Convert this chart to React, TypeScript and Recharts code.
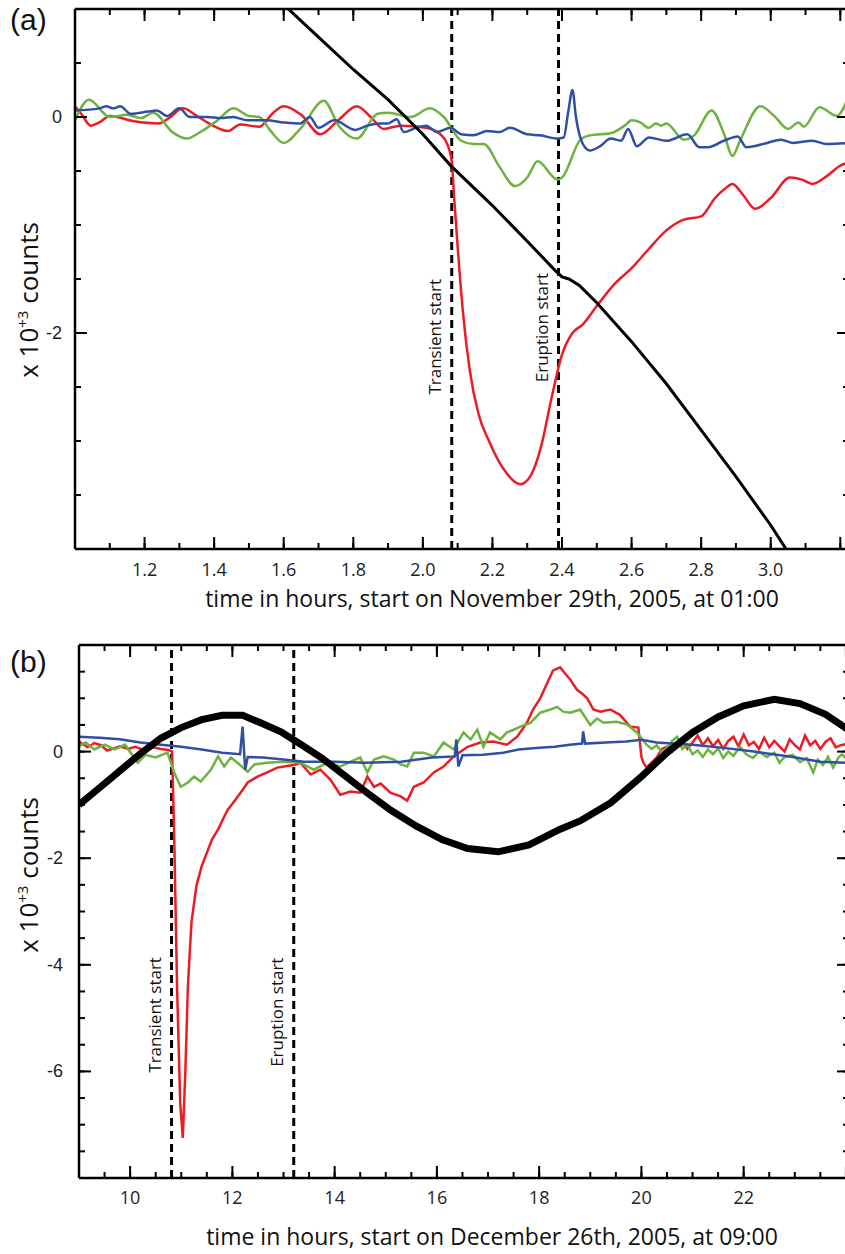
import { LineChart, Line, XAxis, YAxis, ReferenceLine } from 'recharts'

// ---------- panel (a): November 29th, 2005 ----------
const aXTicks = [1.0, 1.1, 1.2, 1.3, 1.4, 1.5, 1.6, 1.7, 1.8, 1.9, 2.0, 2.1, 2.2, 2.3, 2.4, 2.5, 2.6, 2.7, 2.8, 2.9, 3.0, 3.1, 3.2]
const aXLabels = ['1.2', '1.4', '1.6', '1.8', '2.0', '2.2', '2.4', '2.6', '2.8', '3.0']
const aYTicks = [-4, -3.5, -3, -2.5, -2, -1.5, -1, -0.5, 0, 0.5, 1]
const aYLabels = ['0', '-2']
const aMarkers = [2.083, 2.39]

const aRedT = [1.0, 1.02, 1.045, 1.07, 1.1, 1.17, 1.24, 1.27, 1.31, 1.35, 1.38, 1.44, 1.475, 1.53, 1.57, 1.6, 1.65, 1.705, 1.76, 1.81, 1.85, 1.887, 1.935, 2.01, 2.05, 2.07, 2.083, 2.09, 2.1, 2.115, 2.135, 2.16, 2.19, 2.23, 2.28, 2.31, 2.34, 2.37, 2.4, 2.43, 2.46, 2.5, 2.55, 2.6, 2.65, 2.7, 2.75, 2.8, 2.84, 2.87, 2.89, 2.92, 2.955, 3.0, 3.055, 3.09, 3.12, 3.16, 3.2, 3.225]
const aRedV = [0.1, 0.02, -0.08, -0.05, 0.01, -0.04, -0.06, -0.01, 0.08, 0.01, -0.05, -0.13, -0.07, -0.09, 0.04, 0.1, 0.02, -0.16, -0.02, 0.1, 0.0, -0.11, -0.08, -0.1, -0.16, -0.25, -0.41, -0.75, -1.2, -1.8, -2.35, -2.75, -3.0, -3.25, -3.4, -3.32, -3.05, -2.6, -2.2, -2.0, -1.92, -1.75, -1.55, -1.4, -1.22, -1.05, -0.95, -0.92, -0.75, -0.66, -0.62, -0.72, -0.85, -0.75, -0.56, -0.58, -0.62, -0.55, -0.45, -0.42]

const aGreenT = [1.0, 1.04, 1.1, 1.15, 1.19, 1.225, 1.28, 1.32, 1.36, 1.41, 1.455, 1.5, 1.53, 1.56, 1.6, 1.65, 1.715, 1.76, 1.81, 1.87, 1.9, 1.965, 2.02, 2.06, 2.11, 2.145, 2.175, 2.22, 2.265, 2.3, 2.33, 2.387, 2.4, 2.453, 2.48, 2.54, 2.58, 2.6, 2.625, 2.65, 2.67, 2.685, 2.7, 2.75, 2.78, 2.83, 2.865, 2.89, 2.913, 2.97, 3.01, 3.05, 3.08, 3.095, 3.14, 3.19, 3.225]
const aGreenV = [-0.03, 0.16, 0.0, 0.02, -0.01, 0.04, -0.14, -0.2, -0.14, -0.03, 0.08, 0.01, 0.0, -0.12, -0.24, -0.1, 0.15, -0.09, -0.2, 0.03, 0.04, 0.0, 0.08, 0.0, -0.22, -0.25, -0.25, -0.46, -0.64, -0.56, -0.41, -0.58, -0.56, -0.21, -0.17, -0.15, -0.08, -0.03, -0.05, -0.1, -0.06, -0.08, -0.06, -0.21, -0.17, 0.06, -0.15, -0.36, -0.21, 0.1, 0.01, -0.11, -0.05, -0.09, 0.09, 0.01, 0.2]

const aBlueT = [1.0, 1.07, 1.09, 1.11, 1.13, 1.16, 1.21, 1.235, 1.265, 1.3, 1.33, 1.38, 1.42, 1.455, 1.495, 1.55, 1.6, 1.648, 1.675, 1.7, 1.745, 1.805, 1.84, 1.877, 1.9, 1.925, 1.945, 1.98, 2.01, 2.04, 2.08, 2.11, 2.145, 2.185, 2.22, 2.25, 2.3, 2.337, 2.387, 2.405, 2.418, 2.43, 2.44, 2.46, 2.48, 2.51, 2.54, 2.57, 2.59, 2.615, 2.65, 2.7, 2.76, 2.795, 2.82, 2.865, 2.905, 2.93, 2.99, 3.03, 3.065, 3.12, 3.16, 3.225]
const aBlueV = [0.06, 0.08, 0.1, 0.08, 0.1, 0.03, 0.05, 0.06, 0.01, 0.08, 0.0, 0.0, -0.01, 0.0, -0.03, -0.03, -0.05, -0.06, 0.0, -0.1, -0.03, -0.12, -0.08, -0.06, -0.06, -0.02, -0.14, -0.1, -0.08, -0.14, -0.1, -0.16, -0.17, -0.13, -0.14, -0.1, -0.16, -0.17, -0.2, -0.19, 0.05, 0.25, 0.0, -0.25, -0.31, -0.27, -0.2, -0.22, -0.11, -0.27, -0.19, -0.22, -0.16, -0.28, -0.28, -0.22, -0.18, -0.28, -0.24, -0.21, -0.24, -0.22, -0.25, -0.24]

const aBlackT = [1.6, 1.7, 1.8, 1.9, 2.0, 2.08, 2.2, 2.3, 2.38, 2.4, 2.42, 2.45, 2.5, 2.6, 2.7, 2.8, 2.9, 3.0, 3.06]
const aBlackV = [1.04, 0.74, 0.44, 0.16, -0.16, -0.45, -0.82, -1.15, -1.42, -1.48, -1.5, -1.56, -1.72, -2.08, -2.47, -2.9, -3.33, -3.78, -4.08]

// ---------- panel (b): December 26th, 2005 ----------
const bXTicks = [9, 9.5, 10, 10.5, 11, 11.5, 12, 12.5, 13, 13.5, 14, 14.5, 15, 15.5, 16, 16.5, 17, 17.5, 18, 18.5, 19, 19.5, 20, 20.5, 21, 21.5, 22, 22.5, 23, 23.5, 24]
const bXLabels = ['10', '12', '14', '16', '18', '20', '22']
const bYTicks = [-8, -7.5, -7, -6.5, -6, -5.5, -5, -4.5, -4, -3.5, -3, -2.5, -2, -1.5, -1, -0.5, 0, 0.5, 1, 1.5, 2]
const bYLabels = ['0', '-2', '-4', '-6']
const bMarkers = [10.81, 13.2]

const bRedT = [9.0, 9.17, 9.3, 9.43, 9.55, 9.68, 9.8, 9.96, 10.1, 10.27, 10.45, 10.6, 10.75, 10.82, 10.86, 10.92, 10.98, 11.03, 11.08, 11.13, 11.2, 11.3, 11.4, 11.5, 11.6, 11.72, 11.8, 11.91, 12.0, 12.16, 12.3, 12.49, 12.68, 12.88, 13.07, 13.2, 13.33, 13.53, 13.72, 13.92, 14.11, 14.31, 14.5, 14.64, 14.77, 14.9, 15.09, 15.29, 15.42, 15.55, 15.74, 15.94, 16.13, 16.33, 16.6, 16.85, 17.1, 17.37, 17.57, 17.76, 17.88, 18.02, 18.16, 18.27, 18.41, 18.52, 18.61, 18.74, 18.86, 18.94, 19.06, 19.2, 19.39, 19.58, 19.78, 19.94, 20.0, 20.04, 20.1, 20.3, 20.4, 20.5, 20.6, 20.7, 20.8, 20.9, 21.0, 21.1, 21.2, 21.3, 21.4, 21.5, 21.6, 21.7, 21.8, 21.9, 22.0, 22.1, 22.2, 22.3, 22.4, 22.5, 22.6, 22.7, 22.8, 22.9, 23.0, 23.1, 23.2, 23.3, 23.4, 23.5, 23.6, 23.7, 23.8, 23.9, 24.06]
const bRedV = [0.19, 0.08, 0.16, 0.12, 0.02, 0.06, 0.1, 0.05, 0.09, 0.03, 0.08, 0.05, 0.03, 0.0, -1.5, -4.5, -6.6, -7.25, -6.0, -4.4, -3.2, -2.5, -2.15, -1.9, -1.65, -1.46, -1.3, -1.09, -0.98, -0.77, -0.58, -0.47, -0.39, -0.3, -0.27, -0.25, -0.21, -0.43, -0.34, -0.53, -0.81, -0.75, -0.77, -0.47, -0.66, -0.6, -0.77, -0.84, -0.92, -0.66, -0.58, -0.39, -0.28, -0.09, 0.09, 0.17, 0.19, 0.13, 0.28, 0.54, 0.79, 1.0, 1.29, 1.52, 1.58, 1.45, 1.35, 1.16, 1.07, 1.0, 0.79, 0.75, 0.79, 0.69, 0.47, 0.45, -0.1, -0.21, -0.3, -0.11, 0.05, 0.09, 0.0, 0.13, 0.2, 0.05, 0.17, 0.3, 0.12, 0.25, 0.1, 0.22, 0.05, 0.2, 0.28, 0.1, 0.32, 0.12, 0.18, 0.05, 0.26, 0.08, 0.2, 0.1, 0.0, 0.23, 0.12, 0.04, 0.3, 0.12, 0.2, 0.05, 0.18, 0.25, 0.08, 0.12, 0.15]

const bGreenT = [9.0, 9.13, 9.3, 9.5, 9.7, 9.9, 10.15, 10.3, 10.5, 10.73, 10.86, 10.99, 11.13, 11.25, 11.38, 11.58, 11.72, 11.84, 11.97, 12.1, 12.3, 12.43, 12.68, 13.0, 13.33, 13.59, 13.85, 14.11, 14.5, 14.64, 14.77, 14.96, 15.16, 15.29, 15.42, 15.55, 15.74, 15.94, 16.13, 16.33, 16.52, 16.66, 16.79, 16.91, 17.04, 17.24, 17.37, 17.5, 17.63, 17.83, 18.02, 18.22, 18.35, 18.47, 18.61, 18.8, 19.0, 19.13, 19.26, 19.52, 19.72, 19.91, 20.1, 20.2, 20.3, 20.4, 20.5, 20.6, 20.7, 20.8, 20.9, 21.0, 21.1, 21.2, 21.3, 21.4, 21.5, 21.6, 21.7, 21.8, 21.93, 22.05, 22.18, 22.3, 22.45, 22.6, 22.7, 22.8, 22.96, 23.1, 23.23, 23.36, 23.45, 23.55, 23.65, 23.75, 23.85, 23.92, 24.06]
const bGreenV = [0.1, 0.17, 0.04, 0.13, 0.04, 0.13, -0.21, -0.06, -0.11, -0.02, -0.39, -0.66, -0.58, -0.47, -0.56, -0.34, -0.09, -0.28, -0.11, -0.21, -0.38, -0.24, -0.21, -0.19, -0.21, -0.34, -0.21, -0.28, -0.11, -0.39, -0.15, -0.09, -0.15, -0.24, -0.28, -0.02, -0.02, -0.09, 0.17, 0.04, 0.36, 0.23, 0.41, 0.09, 0.36, 0.23, 0.36, 0.41, 0.47, 0.54, 0.73, 0.79, 0.84, 0.75, 0.73, 0.79, 0.5, 0.62, 0.54, 0.56, 0.51, 0.36, 0.13, 0.05, 0.12, -0.02, 0.07, 0.2, 0.28, 0.05, 0.13, -0.05, 0.02, -0.1, 0.04, -0.05, 0.06, -0.12, 0.0, -0.08, 0.09, -0.05, -0.12, 0.0, -0.1, -0.02, -0.21, -0.1, -0.06, -0.2, -0.12, -0.39, -0.15, -0.25, -0.1, -0.3, -0.12, -0.05, -0.18]

const bBlueT = [9.0, 9.4, 9.8, 10.2, 10.6, 11.0, 11.4, 11.8, 12.15, 12.2, 12.25, 12.3, 12.6, 13.0, 13.4, 14.0, 14.6, 15.3, 15.9, 16.35, 16.38, 16.42, 16.5, 16.9, 17.3, 17.6, 18.0, 18.3, 18.6, 18.84, 18.86, 18.9, 19.3, 19.7, 20.0, 20.3, 21.0, 21.6, 22.2, 22.9, 23.5, 24.06]
const bBlueV = [0.28, 0.26, 0.23, 0.17, 0.13, 0.09, 0.04, -0.02, -0.05, 0.47, -0.34, -0.1, -0.11, -0.15, -0.19, -0.19, -0.21, -0.19, -0.11, -0.09, 0.23, -0.28, -0.07, -0.06, -0.02, 0.04, 0.07, 0.09, 0.13, 0.15, 0.38, 0.15, 0.17, 0.19, 0.22, 0.17, 0.13, 0.07, 0.0, -0.09, -0.19, -0.21]

const bBlackT = [9.0, 9.4, 9.8, 10.2, 10.6, 11.0, 11.4, 11.8, 12.2, 12.55, 12.95, 13.35, 13.75, 14.1, 14.6, 15.1, 15.6, 16.1, 16.6, 17.2, 17.8, 18.4, 18.8, 19.4, 20.0, 20.5, 21.0, 21.5, 22.0, 22.6, 23.1, 23.6, 24.06]
const bBlackV = [-1.0, -0.68, -0.36, -0.04, 0.25, 0.45, 0.6, 0.68, 0.68, 0.54, 0.37, 0.13, -0.12, -0.38, -0.75, -1.1, -1.4, -1.65, -1.82, -1.88, -1.75, -1.46, -1.3, -0.96, -0.47, -0.02, 0.36, 0.65, 0.86, 0.98, 0.9, 0.7, 0.4]

const RED = '#ec1c24'
const GREEN = '#6db33f'
const BLUE = '#2f4fa2'
const LABEL_FONT = '"Open Sans", sans-serif'
const NUM_FONT = '"Liberation Sans", Arial, sans-serif'
const MINOR = 6
const MAJOR = 12

const rows = (t: number[], v: number[]) => t.map((x, i) => ({ t: x, v: v[i] }))

type Side = 'bottom' | 'top' | 'left' | 'right'

// built-in tick line gives the short inward mark; majors get extended here
const makeTick =
  (side: Side, isMajor: (v: number) => boolean, labels: string[] = [], digits = 0, gap = 0) =>
  (props: any) => {
    const { x, y, payload } = props
    const v = payload.value as number
    const txt = digits ? v.toFixed(digits) : String(v)
    const show = labels.includes(txt)
    const big = isMajor(v)
    if (side === 'bottom' || side === 'top') {
      const axisY = side === 'bottom' ? y + MINOR : y - MINOR
      const dir = side === 'bottom' ? -1 : 1
      return (
        <g>
          {big && <path d={`M${x},${axisY}V${axisY + dir * MAJOR}`} stroke="#000" strokeWidth={2} fill="none" />}
          {show && (
            <text x={x} y={axisY + gap} textAnchor="middle" fontSize={18} fontFamily={LABEL_FONT} fill="#222">
              {txt}
            </text>
          )}
        </g>
      )
    }
    const axisX = side === 'left' ? x - MINOR : x + MINOR
    const dir = side === 'left' ? 1 : -1
    return (
      <g>
        {big && <path d={`M${axisX},${y}H${axisX + dir * MAJOR}`} stroke="#000" strokeWidth={2} fill="none" />}
        {show && (
          <text x={axisX - gap} y={y + 6} textAnchor="end" fontSize={18} fontFamily={NUM_FONT} fill="#222">
            {txt}
          </text>
        )}
      </g>
    )
  }

const markerLabel = (text: string, frac: number) => (props: any) => {
  const vb = props.viewBox
  const cx = vb.x - 17
  const cy = vb.y + frac * vb.height
  return (
    <text
      transform={`translate(${cx},${cy}) rotate(-90)`}
      textAnchor="middle"
      dominantBaseline="central"
      fontSize={17}
      fontFamily={LABEL_FONT}
      fill="#111"
    >
      {text}
    </text>
  )
}

const axisLine = { stroke: '#000', strokeWidth: 2.5 }
const tickLine = { stroke: '#000', strokeWidth: 2 }
const evenTenth = (v: number) => Math.round(v * 10) % 2 === 0
const evenInt = (v: number) => Math.abs(v / 2 - Math.round(v / 2)) < 1e-6

type Row = { t: number; v: number }
type PanelProps = {
  xDomain: [number, number]
  yDomain: [number, number]
  xTicks: number[]
  yTicks: number[]
  xLabels: string[]
  yLabels: string[]
  xMajor: (v: number) => boolean
  xDigits: number
  xGap: number
  yGap: number
  leftWidth: number
  bottomHeight: number
  markers: number[]
  markerFracs: number[]
  red: Row[]
  green: Row[]
  blue: Row[]
  black: Row[]
  blackWidth: number
  smooth: boolean
}

function Panel(p: PanelProps) {
  const curve = p.smooth ? 'monotone' : 'linear'
  const common = {
    type: 'number' as const,
    interval: 0,
    allowDataOverflow: true,
    tickSize: -MINOR,
    tickMargin: 0,
    tickLine,
    axisLine,
  }
  return (
    <LineChart width={860} height={640} margin={{ top: 8, right: 10, bottom: 0, left: 0 }}>
      <XAxis
        {...common}
        dataKey="t"
        domain={p.xDomain}
        ticks={p.xTicks}
        height={p.bottomHeight}
        tick={makeTick('bottom', p.xMajor, p.xLabels, p.xDigits, p.xGap)}
      />
      <XAxis
        {...common}
        xAxisId="top"
        orientation="top"
        dataKey="t"
        domain={p.xDomain}
        ticks={p.xTicks}
        height={1}
        tick={makeTick('top', p.xMajor)}
      />
      <YAxis
        {...common}
        domain={p.yDomain}
        ticks={p.yTicks}
        width={p.leftWidth}
        tick={makeTick('left', evenInt, p.yLabels, 0, p.yGap)}
      />
      <YAxis
        {...common}
        yAxisId="right"
        orientation="right"
        domain={p.yDomain}
        ticks={p.yTicks}
        width={1}
        tick={makeTick('right', evenInt)}
      />
      <ReferenceLine
        x={p.markers[0]}
        stroke="#000"
        strokeWidth={3}
        strokeDasharray="8 5"
        label={markerLabel('Transient start', p.markerFracs[0])}
      />
      <ReferenceLine
        x={p.markers[1]}
        stroke="#000"
        strokeWidth={3}
        strokeDasharray="8 5"
        label={markerLabel('Eruption start', p.markerFracs[1])}
      />
      <Line data={p.red} dataKey="v" type={curve} stroke={RED} strokeWidth={2.5} dot={false} isAnimationActive={false} />
      <Line data={p.green} dataKey="v" type={curve} stroke={GREEN} strokeWidth={2.5} dot={false} isAnimationActive={false} />
      <Line data={p.blue} dataKey="v" type={curve} stroke={BLUE} strokeWidth={2.5} dot={false} isAnimationActive={false} />
      <Line data={p.black} dataKey="v" type="linear" stroke="#000" strokeWidth={p.blackWidth} dot={false} isAnimationActive={false} />
    </LineChart>
  )
}

function YTitle({ x, y }: { x: number; y: number }) {
  return (
    <text transform={`translate(${x},${y}) rotate(-90)`} textAnchor="middle" fontSize={26} fontFamily={LABEL_FONT} fill="#111">
      x 10
      <tspan dy={-10} fontSize={15}>
        +3
      </tspan>
      <tspan dy={10}> counts</tspan>
    </text>
  )
}

export default function App() {
  return (
    <div style={{ position: 'absolute', left: 0, top: 0, width: 845, height: 1254, overflow: 'hidden', background: '#fff' }}>
      <div style={{ position: 'absolute', left: 0, top: 0 }}>
        <Panel
          xDomain={[1.0, 3.225]}
          yDomain={[-4, 1]}
          xTicks={aXTicks}
          yTicks={aYTicks}
          xLabels={aXLabels}
          yLabels={aYLabels}
          xMajor={evenTenth}
          xDigits={1}
          xGap={27}
          yGap={13}
          leftWidth={75}
          bottomHeight={91}
          markers={aMarkers}
          markerFracs={[0.607, 0.59]}
          red={rows(aRedT, aRedV)}
          green={rows(aGreenT, aGreenV)}
          blue={rows(aBlueT, aBlueV)}
          black={rows(aBlackT, aBlackV)}
          blackWidth={3}
          smooth
        />
      </div>
      <div style={{ position: 'absolute', left: 0, top: 636 }}>
        <Panel
          xDomain={[9, 24.06]}
          yDomain={[-8, 2]}
          xTicks={bXTicks}
          yTicks={bYTicks}
          xLabels={bXLabels}
          yLabels={bYLabels}
          xMajor={evenInt}
          xDigits={0}
          xGap={26}
          yGap={16}
          leftWidth={79}
          bottomHeight={98}
          markers={bMarkers}
          markerFracs={[0.694, 0.689]}
          red={rows(bRedT, bRedV)}
          green={rows(bGreenT, bGreenV)}
          blue={rows(bBlueT, bBlueV)}
          black={rows(bBlackT, bBlackV)}
          blackWidth={7}
          smooth={false}
        />
      </div>
      <svg width={845} height={1254} style={{ position: 'absolute', left: 0, top: 0, pointerEvents: 'none' }}>
        <text x={10} y={30} fontSize={30} fontFamily={NUM_FONT} fill="#111">
          (a)
        </text>
        <text x={10} y={672} fontSize={30} fontFamily={NUM_FONT} fill="#111">
          (b)
        </text>
        <YTitle x={38} y={300} />
        <YTitle x={38} y={875} />
        <text x={492} y={607} textAnchor="middle" fontSize={23} fontFamily={LABEL_FONT} fill="#111">
          time in hours, start on November 29th, 2005, at 01:00
        </text>
        <text x={492} y={1245} textAnchor="middle" fontSize={23} fontFamily={LABEL_FONT} fill="#111">
          time in hours, start on December 26th, 2005, at 09:00
        </text>
      </svg>
    </div>
  )
}
